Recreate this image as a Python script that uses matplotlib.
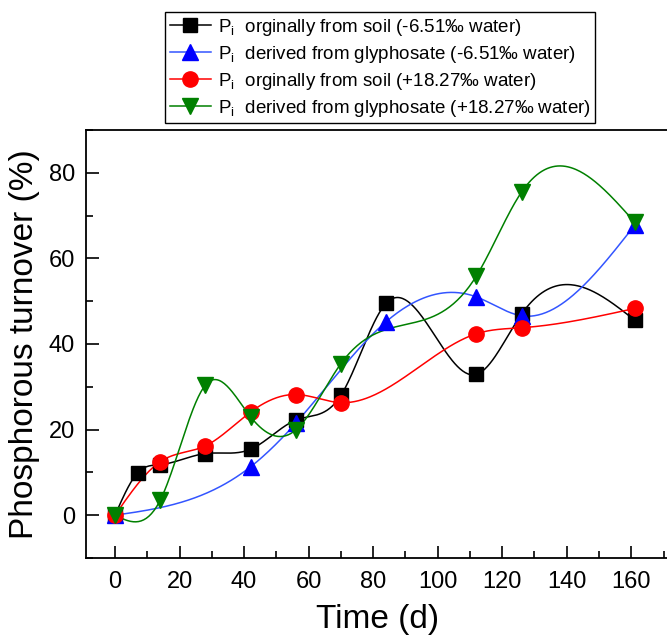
import numpy as np
import matplotlib
matplotlib.use('Agg')
import matplotlib.pyplot as plt
from matplotlib.ticker import MultipleLocator

plt.rcParams['font.family'] = ['Liberation Sans', 'DejaVu Sans']

# ----------- dados -----------
x_solo_a = [0, 7, 14, 28, 42, 56, 70, 84, 112, 126, 161]
y_solo_a = [0, 9.9, 11.8, 14.4, 15.4, 22.2, 28.0, 49.5, 32.9, 47.0, 45.6]

x_gly_a = [0, 42, 56, 84, 112, 126, 161]
y_gly_a = [0, 11.3, 21.5, 45.2, 51.0, 46.6, 67.7]

x_solo_b = [0, 14, 28, 42, 56, 70, 112, 126, 161]
y_solo_b = [0, 12.5, 16.2, 24.1, 28.2, 26.3, 42.4, 43.8, 48.3]

x_gly_b = [0, 14, 28, 42, 56, 70, 112, 126, 161]
y_gly_b = [0, 3.5, 30.4, 23.0, 19.9, 35.4, 55.9, 75.5, 68.5]

rotulos = [r'P$_\mathregular{i}$  orginally from soil (-6.51‰ water)',
           r'P$_\mathregular{i}$  derived from glyphosate (-6.51‰ water)',
           r'P$_\mathregular{i}$  orginally from soil (+18.27‰ water)',
           r'P$_\mathregular{i}$  derived from glyphosate (+18.27‰ water)']


def spline_natural(x, y, n=400):
    # spline cubica natural, so para desenhar a linha suave entre os pontos
    x = np.asarray(x, float)
    y = np.asarray(y, float)
    k = len(x)
    h = np.diff(x)
    A = np.zeros((k, k))
    b = np.zeros(k)
    A[0, 0] = 1
    A[-1, -1] = 1
    for i in range(1, k - 1):
        A[i, i - 1] = h[i - 1]
        A[i, i] = 2 * (h[i - 1] + h[i])
        A[i, i + 1] = h[i]
        b[i] = 6 * ((y[i + 1] - y[i]) / h[i] - (y[i] - y[i - 1]) / h[i - 1])
    M = np.linalg.solve(A, b)
    xs = np.linspace(x[0], x[-1], n)
    idx = np.clip(np.searchsorted(x, xs) - 1, 0, k - 2)
    x0, x1 = x[idx], x[idx + 1]
    hh = x1 - x0
    t1 = x1 - xs
    t0 = xs - x0
    ys = (M[idx] * t1 ** 3 + M[idx + 1] * t0 ** 3) / (6 * hh) \
        + (y[idx] / hh - M[idx] * hh / 6) * t1 \
        + (y[idx + 1] / hh - M[idx + 1] * hh / 6) * t0
    return xs, ys


fig = plt.figure(figsize=(6.67, 6.38), dpi=100)
ax = fig.add_axes([86 / 667, 80 / 638, 584 / 667, 428 / 638])

series = [
    (x_solo_a, y_solo_a, 'black', 's', 10),
    (x_gly_a, y_gly_a, '#0000ff', '^', 11),
    (x_solo_b, y_solo_b, '#ff0000', 'o', 11),
    (x_gly_b, y_gly_b, '#008000', 'v', 11),
]

handles = []
for (xv, yv, cor, marc, tam), rot in zip(series, rotulos):
    xs, ys = spline_natural(xv, yv)
    lcor = '#3355ff' if cor == '#0000ff' else cor
    ax.plot(xs, ys, color=lcor, lw=1.1, zorder=2)
    ax.plot(xv, yv, ls='none', marker=marc, ms=tam, color=cor, zorder=3)
    h, = ax.plot([], [], color=lcor, lw=1.1, marker=marc, ms=tam, mfc=cor, mec=cor)
    handles.append(h)

ax.set_xlim(-9, 172)
ax.set_ylim(-10, 90)
ax.xaxis.set_major_locator(MultipleLocator(20))
ax.xaxis.set_minor_locator(MultipleLocator(10))
ax.yaxis.set_major_locator(MultipleLocator(20))
ax.yaxis.set_minor_locator(MultipleLocator(10))
ax.tick_params(which='both', direction='in', top=False, right=False, width=1.2, labelsize=17)
ax.tick_params(which='major', length=9)
ax.tick_params(which='minor', length=5)
ax.tick_params(axis='x', pad=9)
ax.tick_params(axis='y', pad=8)
ax.spines['right'].set_visible(False)
for s in ['left', 'bottom', 'top']:
    ax.spines[s].set_linewidth(1.3)

ax.set_xlabel('Time (d)', fontsize=24, labelpad=8)
ax.set_ylabel('Phosphorous turnover (%)', fontsize=24, labelpad=6)

leg = fig.legend(handles, rotulos, loc='upper left', bbox_to_anchor=(165 / 667, 1 - 12 / 638),
                 fontsize=13.5, frameon=True, fancybox=False, edgecolor='black',
                 framealpha=1, borderpad=0.25, labelspacing=0.32, handlelength=2.2,
                 handletextpad=0.35, borderaxespad=0)
leg.get_frame().set_linewidth(1.0)

fig.savefig('out.png', dpi=100)
